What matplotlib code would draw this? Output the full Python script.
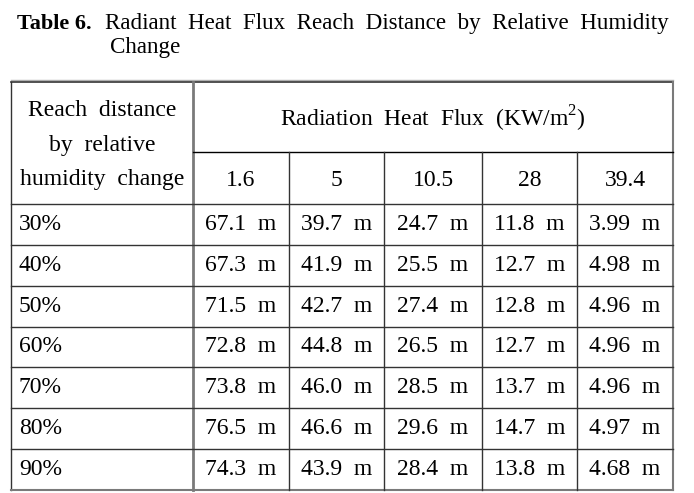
import matplotlib.pyplot as plt

plt.rcParams['font.family'] = 'Liberation Serif'
plt.rcParams['mathtext.fontset'] = 'custom'
plt.rcParams['mathtext.rm'] = 'Liberation Serif'

humidity = ["30%", "40%", "50%", "60%", "70%", "80%", "90%"]
flux = ["1.6", "5", "10.5", "28", "39.4"]
dist_1_6 = [67.1, 67.3, 71.5, 72.8, 73.8, 76.5, 74.3]
dist_5 = [39.7, 41.9, 42.7, 44.8, 46.0, 46.6, 43.9]
dist_10_5 = [24.7, 25.5, 27.4, 26.5, 28.5, 29.6, 28.4]
dist_28 = [11.8, 12.7, 12.8, 12.7, 13.7, 14.7, 13.8]
dist_39_4 = [3.99, 4.98, 4.96, 4.96, 4.96, 4.97, 4.68]
columns = [dist_1_6, dist_5, dist_10_5, dist_28, dist_39_4]
fmts = ["{:.1f}", "{:.1f}", "{:.1f}", "{:.1f}", "{:.2f}"]

fig = plt.figure(figsize=(6.94, 4.93), dpi=100)
ax = fig.add_axes([0, 0, 1, 1])
ax.set_xlim(0, 694)
ax.set_ylim(493, 0)
ax.axis('off')

fs = 17
# title
ax.text(17, 24, "Table 6.", fontsize=16, fontweight='bold', va='center')
ax.text(105, 24, "Radiant  Heat  Flux  Reach  Distance  by  Relative  Humidity",
        fontsize=16.6, va='center')
ax.text(110, 47, "Change", fontsize=16.6, va='center')

# table geometry
left, right = 11, 673
col_x = [193, 289, 384, 482, 577, 673]
top = 82
sub = 152
head_bot = 204
bottom = 490
row_h = (bottom - head_bot) / len(humidity)

gray = '#7a7a7a'
dark = '#333333'
ax.plot([left, right], [79.5, 79.5], color='#b0b0b0', lw=1)
ax.plot([left, right], [top, top], color=dark, lw=1.2)
ax.plot([left, left], [top, bottom], color=dark, lw=1)
ax.plot([right, right], [top, bottom], color=gray, lw=1.5)
ax.plot([left, right], [bottom, bottom], color=gray, lw=1.5)
ax.plot([col_x[0], col_x[0]], [top, bottom], color=gray, lw=2)
ax.plot([col_x[0], right], [sub, sub], color='black', lw=1)
for x in col_x[1:-1]:
    ax.plot([x, x], [sub, bottom], color=dark, lw=1)
ax.plot([left, right], [head_bot, head_bot], color=dark, lw=1)
for i in range(1, len(humidity)):
    y = head_bot + i * row_h
    ax.plot([left, right], [y, y], color=dark, lw=1)

# header
ax.text(102, 111, "Reach  distance", fontsize=fs, ha='center', va='center')
ax.text(102, 146, "by  relative", fontsize=fs, ha='center', va='center')
ax.text(102, 180, "humidity  change", fontsize=fs, ha='center', va='center')
ax.text((col_x[0] + right) / 2, 119, r"Radiation  Heat  Flux  (KW/m$^2$)",
        fontsize=fs, ha='center', va='center')
for j, f in enumerate(flux):
    ax.text((col_x[j] + col_x[j + 1]) / 2, 180, f, fontsize=fs,
            ha='center', va='center')

# body
for i, h in enumerate(humidity):
    yc = head_bot + (i + 0.5) * row_h
    ax.text(19, yc, h, fontsize=fs, va='center')
    for j, col in enumerate(columns):
        ax.text((col_x[j] + col_x[j + 1]) / 2, yc, fmts[j].format(col[i]) + "  m",
                fontsize=fs, ha='center', va='center')

fig.savefig("out.png", dpi=100)
